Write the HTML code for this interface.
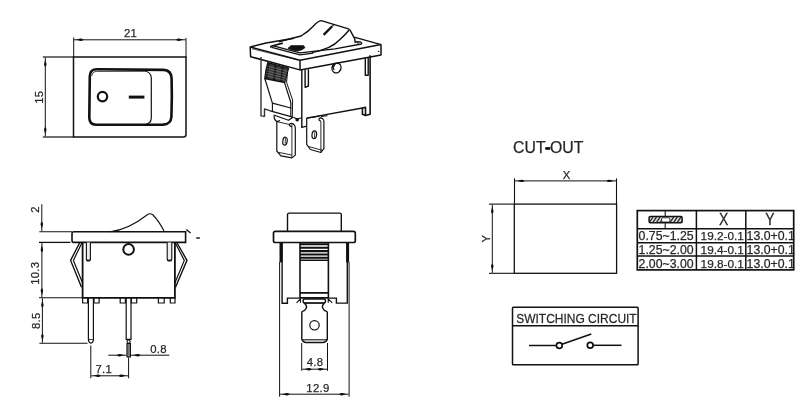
<!DOCTYPE html>
<html><head><meta charset="utf-8">
<style>
html,body{margin:0;padding:0;background:#fff;width:800px;height:402px;overflow:hidden}
svg{position:absolute;left:0;top:0;display:block;will-change:transform}
text{font-family:"Liberation Sans",sans-serif;fill:#222;stroke:#333;stroke-width:0.25}
</style></head><body>
<svg width="800" height="402" viewBox="0 0 800 402">
<defs>
<marker id="ar" viewBox="0 0 10 4" refX="10" refY="2" markerWidth="10" markerHeight="4" orient="auto-start-reverse" markerUnits="userSpaceOnUse"><path d="M0.6,2 C1.8,0.75 3,0.75 3.6,0.8 C5,1.1 6.5,1.7 7.8,2 C6.5,2.3 5,2.9 3.6,3.2 C3,3.25 1.8,3.25 0.6,2 Z" fill="#111"/></marker>
</defs>
<g fill="none" stroke="#111" stroke-width="1.2" stroke-linecap="butt">
<!-- FRONT VIEW -->
<g id="front">
<path d="M73.5,57 H186 V134.5 Q186,137 183.5,137 H73.5 Z" stroke-width="1.5"/>
<line x1="73.7" y1="37.5" x2="73.7" y2="57" stroke-width="1"/>
<line x1="186" y1="38" x2="186" y2="57" stroke-width="1"/>
<line x1="74" y1="39.8" x2="185.5" y2="39.8" stroke-width="1" marker-start="url(#ar)" marker-end="url(#ar)"/>
<line x1="42.8" y1="57" x2="73.5" y2="57" stroke-width="1.2"/>
<line x1="42.8" y1="137" x2="73.5" y2="137" stroke-width="1.2"/>
<line x1="45.3" y1="57.5" x2="45.3" y2="136.5" stroke-width="1" marker-start="url(#ar)" marker-end="url(#ar)"/>
<path d="M89.8,76 Q90,69.3 97,69.3 L163.5,69.9 Q171.2,70.4 171.6,78 Q172.2,97 171.4,117 Q170.8,124.4 163,124.6 L96,124.8 Q89.4,124.6 89.3,117.5 Z" stroke-width="2.6"/>
<path d="M91.8,76 Q92,71.8 96.5,71.4 L144,71.3" stroke-width="0.8"/>
<path d="M144,71 Q151,71.5 151.3,78 L151.3,118 Q151,123.5 146,124" stroke-width="1.2"/>
<circle cx="102.5" cy="96.6" r="4.7" stroke-width="2.2"/>
<line x1="128.8" y1="97.1" x2="144.4" y2="97.1" stroke-width="3"/>
</g>

<!-- SIDE VIEW -->
<g id="side">
<path d="M110,231.8 C126,230 138,222 147,215 Q150,212.6 153,215 C157,219 161,225 164.4,231.8" stroke-width="1.1"/>
<path d="M74,231.8 H185.6 V242.4 H74 Q72,242.4 72,240.4 V233.8 Q72,231.8 74,231.8 Z" stroke-width="1.6"/>
<line x1="39.3" y1="231.8" x2="72" y2="231.8" stroke-width="1.1"/>
<line x1="39" y1="242.4" x2="70.5" y2="242.4" stroke-width="1.3"/>
<line x1="41.8" y1="204.3" x2="41.8" y2="231" stroke-width="1" marker-end="url(#ar)"/>
<line x1="41.9" y1="243" x2="41.9" y2="297.3" stroke-width="1" marker-start="url(#ar)" marker-end="url(#ar)"/>
<line x1="39" y1="297.8" x2="82.6" y2="297.8" stroke-width="1.1"/>
<line x1="42.4" y1="298.3" x2="42.4" y2="342.8" stroke-width="1" marker-start="url(#ar)" marker-end="url(#ar)"/>
<line x1="39.4" y1="343.3" x2="87.5" y2="343.3" stroke-width="1.1"/>
<path d="M82.6,242.4 V297.8 H174.9 V242.4" stroke-width="1.8"/>
<circle cx="128.6" cy="249.4" r="5.3" stroke-width="2"/>
<path d="M86.4,242.4 V259 Q86.4,261 88.4,261 Q90.4,261 90.4,259 V242.4" stroke-width="1.1" fill="#eee"/>
<line x1="86.6" y1="260.2" x2="90.2" y2="260.2" stroke-width="1.2"/>
<path d="M167.2,242.4 V259 Q167.2,261 169.5,261 Q171.8,261 171.8,259 V242.4" stroke-width="1.1" fill="#eee"/>
<line x1="167.4" y1="260.2" x2="171.6" y2="260.2" stroke-width="1.2"/>
<path d="M79.8,242.5 L70.6,260.4 L81.5,287.3" stroke-width="1.4"/>
<path d="M81.8,243 L73.4,260.4 L82.6,283" stroke-width="1.2"/>
<path d="M176.8,242.5 L187,260.4 L175.5,287.3" stroke-width="1.4"/>
<path d="M175.3,243 L184.3,260.4 L174.9,283" stroke-width="1.2"/>
<path d="M82.6,297.8 V303 H87.6 V297.8 M94,297.8 V303 H99.1 V297.8" stroke-width="1.2"/>
<path d="M120.2,297.8 V303 H125.4 V297.8 M131.4,297.8 V303 H136.7 V297.8" stroke-width="1.2"/>
<path d="M158.4,297.8 V303 H164.2 V297.8 M170.3,297.8 V303 H175 V297.8" stroke-width="1.2"/>
<path d="M88.4,297.8 V339.5 Q88.6,342.8 90.9,343.2 Q93.2,342.8 93.4,339.5 V297.8" stroke-width="1.2"/>
<path d="M89,339.5 H92.8" stroke-width="0.8"/>
<path d="M126.2,297.8 V339.4 H131 V297.8" stroke-width="1.2"/>
<circle cx="128.6" cy="341.6" r="1.6" stroke-width="1.1"/>
<rect x="126.9" y="343.5" width="3.6" height="13.5" fill="#777" stroke-width="1"/>
<line x1="90.8" y1="345.5" x2="90.8" y2="378.3" stroke-width="1"/>
<line x1="128.6" y1="357.5" x2="128.6" y2="378.3" stroke-width="1"/>
<line x1="91.3" y1="375.8" x2="128.1" y2="375.8" stroke-width="1" marker-start="url(#ar)" marker-end="url(#ar)"/>
<line x1="108.3" y1="355.2" x2="126.3" y2="355.2" stroke-width="1" marker-end="url(#ar)"/>
<line x1="169.3" y1="355.2" x2="131" y2="355.2" stroke-width="1" marker-end="url(#ar)"/>
<path d="M186.3,229.4 L190.6,233.1 M196.3,238 H199.8" stroke-width="1.3"/>
</g>

<!-- END VIEW -->
<g id="end">
<path d="M287.5,231.3 V214.8 Q287.5,213.1 289.2,213.1 H339.6 Q341.3,213.1 341.3,214.8 V231.3" stroke-width="1.4"/>
<path d="M275.3,231.3 H353.5 Q355.3,231.3 355.3,233.1 V240.7 Q355.3,242.5 353.5,242.5 H275.3 Q273.5,242.5 273.5,240.7 V233.1 Q273.5,231.3 275.3,231.3 Z" stroke-width="1.7"/>
<line x1="281" y1="242.5" x2="281" y2="262.4" stroke-width="3"/>
<line x1="347.6" y1="242.5" x2="347.6" y2="262.4" stroke-width="3"/>
<path d="M282.1,242.5 V303.3 H287.4 V298.1 H300 M328.6,298.1 H336.4 V303.1 H347.3 V242.5" stroke-width="1.4"/>
<line x1="279.6" y1="262" x2="279.6" y2="396.7" stroke-width="1"/>
<line x1="349.1" y1="262" x2="349.1" y2="396.7" stroke-width="1"/>
<path d="M300,242.5 V298 M328.4,242.5 V298" stroke-width="1.6"/>
<path d="M300,244.3 H328.4 M300,247.7 H328.4 M300,251.1 H328.4 M300,254.5 H328.4 M300,257.8 H328.4" stroke-width="2.1"/>
<path d="M300,260.3 H328.4 M300,292.9 H328.4 M300,297.9 H328.4" stroke-width="1.6"/>
<path d="M304.8,299 H323.8 Q325.5,299 325.5,301 Q325.5,303.1 323.8,303.1 H304.8 Q303.1,303.1 303.1,301 Q303.1,299 304.8,299 Z" stroke-width="1.4"/>
<line x1="303.5" y1="302.9" x2="325" y2="302.9" stroke-width="1.2"/>
<path d="M296.5,302.8 L300.5,298.8 V302.8 M332.2,302.8 L328.2,298.8 V302.8" stroke-width="1.1"/>
<path d="M304.3,303.3 C306.5,305 307,306.5 306.3,308 C305.5,309.8 304,311 302.6,311.4 Q301.8,311.8 301.8,313 V339.2 Q303,342.5 306,342.5 H323 Q326,342.5 327.3,339.2 V313 Q327.3,311.8 326.5,311.4 C325,311 323.5,309.8 322.7,308 C322,306.5 322.5,305 324.2,303.3" stroke-width="1.4"/>
<path d="M302.3,339.8 H327.4" stroke-width="1.1"/>
<circle cx="314.5" cy="325.3" r="4.7" stroke-width="1.2"/>
<line x1="301.7" y1="343" x2="301.7" y2="370.8" stroke-width="1"/>
<line x1="327.5" y1="343" x2="327.5" y2="370.8" stroke-width="1"/>
<line x1="302.2" y1="369.2" x2="327" y2="369.2" stroke-width="1" marker-start="url(#ar)" marker-end="url(#ar)"/>
<line x1="280.1" y1="394.2" x2="348.6" y2="394.2" stroke-width="1" marker-start="url(#ar)" marker-end="url(#ar)"/>
</g>


<!-- ISOMETRIC VIEW -->
<g id="iso" stroke-linejoin="round">
<!-- bezel outer -->
<path d="M294,38.2 L266,43.1 L250.2,47 L250.6,56.7 L300,69.9 L381,55 L381,44.6 L354.2,37.1" stroke-width="1.5"/>
<path d="M250.2,47 L300,60.3 L381,44.6" stroke-width="1.5"/>
<path d="M300,60.3 L300,69.9" stroke-width="1.5"/>
<path d="M252,48.8 L298,60" stroke-width="0.7"/>
<circle cx="378.6" cy="51.4" r="0.7" fill="#111" stroke="none"/>
<!-- opening -->
<path d="M282.8,43.1 L272,46 Q270,46.8 271.5,47.5" stroke-width="1.8"/>
<path d="M272.5,45.7 L300,52.9 L335,48.9 L361.3,44 Q362.5,43 360.5,42 L355.5,41.6" stroke-width="1.3"/>
<path d="M271.8,47.3 L300,54.9 L313,53.2" stroke-width="1.3"/>
<path d="M356.5,42.5 Q359.5,43 358,43.6" stroke-width="1"/>
<!-- rocker -->
<path d="M278.9,41.8 L301,36 C306,33 310,30 314,25.5 Q318,21 321.3,20.6 L348.5,28.8 Q349.8,29.3 350.5,30.8 L354.7,38.8 L355.3,43.1" stroke-width="1.4"/>
<path d="M312,52.6 C325,50 334,46 339.4,40 Q345,35 349.2,30" stroke-width="1.4"/>
<path d="M323.6,34.9 L332.2,26.2" stroke-width="2.3"/>
<path d="M332.5,26 L333.8,24.6" stroke-width="1.2"/>
<path d="M288,48.3 L291,45.7 H303.6 L304.9,47.7 L301.8,49.8 L297.5,50.9 L291.5,49.8 Z" fill="#111" stroke-width="0.9"/>
<!-- body -->
<path d="M301.8,69.9 V127.4 L306.7,126.1" stroke-width="1.4"/>
<path d="M261,57 V115.9 L264.5,116.3 V108.9 L271.1,111.1" stroke-width="1.4" stroke="#333"/>
<path d="M370.1,55.3 V114.3 L365.5,115.5 L362.4,114.3 V108 L365.5,107.4 V115.5" stroke-width="1.6"/>
<path d="M306.7,118.1 L362.4,108" stroke-width="1.3"/>
<path d="M305.1,69.6 V87.3 L308.4,86 V69.2" stroke-width="1.4"/>
<path d="M365.3,57.6 V75.3 H368.2 V57.2" stroke-width="1.4"/>
<ellipse cx="336.5" cy="68" rx="4.4" ry="5" transform="rotate(25 336.5 68)" stroke-width="1.4"/>
<path d="M333.5,63.5 Q332.5,67 334,70 M335.5,63 L333.8,66.5" stroke-width="1.3"/>
<!-- knurl -->
<path d="M267.8,62.6 L288.5,68.2 Q286.5,75 284.7,82.6 L264.8,78.5 Q265.5,70 267.8,62.6 Z" fill="#3a3a3a" stroke-width="1.3"/>
<path d="M268.6,63.5 L266.4,78.8 M275.6,65.3 L274,80.4 M282.6,67.2 L281.2,81.8" stroke="#111" stroke-width="2"/>
<path d="M267,66 L287.6,71.3 M266.6,68.4 L287,73.6 M266.3,70.8 L286.4,75.9 M266,73.2 L285.8,78.2 M265.7,75.6 L285.3,80.4" stroke="#8a8a8a" stroke-width="0.5"/>
<!-- plate -->
<path d="M264.8,78.5 L272.4,103.1 L290.8,108 V102.5 L284.5,82.6" stroke-width="1.2"/>
<path d="M287.5,72 L286.6,82.5 L292.6,100 L292.3,116.8" stroke-width="1"/>
<path d="M272.4,103.1 V111.5 M290.8,108 V116.3" stroke-width="1.1"/>
<path d="M271.1,111.1 L292.8,117.2 L288.5,120.3 L273.7,115" stroke-width="1.2"/>
<path d="M293.5,117.2 L297,119 L302,117.8" stroke-width="1.1"/>
<circle cx="297.2" cy="119.8" r="1.8" fill="#111" stroke="none"/>
<!-- terminal 1 -->
<path d="M274.2,115.5 Q273.5,119 276.8,121.6 L280,120.5" stroke-width="1.2"/>
<path d="M276.8,121.6 V151 L280.9,155.8 L291.9,157.9 L295.3,155.1 V127.8 Q295,124 291.5,123.3 Q289,123.5 289.5,125.5 L291.9,127" stroke-width="1.2"/>
<path d="M278.9,152.4 L291.9,155.1 M291.9,124.4 V157.9" stroke-width="0.9"/>
<path d="M276.8,121.6 L289.5,124.5" stroke-width="0.9"/>
<ellipse cx="285" cy="141.2" rx="2.2" ry="4" transform="rotate(8 285 141.2)" stroke-width="1.2"/>
<line x1="285.5" y1="138.2" x2="285.2" y2="143.8" stroke-width="0.8"/>
<!-- terminal 2 -->
<path d="M306.7,118.1 V144.3 L310.4,149.5 L320.9,152.5 L323.9,148.7 V121.5 Q323.5,118 320.5,117.8 Q318.5,118.2 319.2,120.3 L320.9,121.2" stroke-width="1.2"/>
<path d="M306.7,118.1 L319.6,116.1 M321,116.4 L327.5,115.8" stroke-width="1.1"/>
<path d="M308.5,146.5 L322.5,150.3 M320.9,121.2 V152.5" stroke-width="0.9"/>
<ellipse cx="314.3" cy="134.8" rx="2.3" ry="3.9" transform="rotate(6 314.3 134.8)" stroke-width="1.2"/>
<line x1="314.8" y1="131.8" x2="314.5" y2="137.5" stroke-width="0.8"/>
</g>
<!-- CUTOUT -->
<g id="cutout">
<rect x="514.3" y="204.1" width="102.3" height="69.2" stroke-width="1.3"/>
<line x1="514.5" y1="178.4" x2="514.5" y2="204" stroke-width="1.1"/>
<line x1="616.5" y1="178.4" x2="616.5" y2="204" stroke-width="1.1"/>
<line x1="515" y1="180.9" x2="616" y2="180.9" stroke-width="1" marker-start="url(#ar)" marker-end="url(#ar)"/>
<line x1="489" y1="204.1" x2="514.3" y2="204.1" stroke-width="1.1"/>
<line x1="489" y1="273.3" x2="514.3" y2="273.3" stroke-width="1.1"/>
<line x1="492.3" y1="204.6" x2="492.3" y2="272.8" stroke-width="1" marker-start="url(#ar)" marker-end="url(#ar)"/>
</g>
<!-- TABLE -->
<g id="table">
<rect x="637.3" y="210.6" width="156.4" height="59.3" stroke-width="1.7"/>
<line x1="696.4" y1="210.5" x2="696.4" y2="269.9" stroke-width="1.5"/>
<line x1="745.8" y1="210.5" x2="745.8" y2="269.9" stroke-width="1.5"/>
<line x1="637" y1="228.8" x2="793.8" y2="228.8" stroke-width="1.5"/>
<line x1="637" y1="242.8" x2="793.8" y2="242.8" stroke-width="1.5"/>
<line x1="637" y1="256" x2="793.8" y2="256" stroke-width="1.5"/>
<line x1="665.2" y1="210.5" x2="665.2" y2="216.3" stroke-width="1.1"/>
<line x1="665.2" y1="223.3" x2="665.2" y2="228.8" stroke-width="1.1"/>
<rect x="649.1" y="216.6" width="33" height="6.1" rx="1.2" fill="#d8d8d8" stroke="#111" stroke-width="1.5"/>
<path d="M649.5,222.2 L653,217 M652.8,222.6 L656.6,216.8 M656.4,222.6 L660.2,216.8 M660,222.6 L662,219.6 M670,222.6 L673.8,216.8 M673.6,222.6 L677.4,216.8 M677.2,222.6 L681,216.8 M680.8,222.6 L682,220.8" stroke="#222" stroke-width="1.2"/>
<rect x="661.6" y="217.8" width="8.2" height="4.2" rx="1.2" fill="#fff" stroke="#111" stroke-width="0.8"/>
</g>
<!-- SWITCHING CIRCUIT -->
<g id="circuit">
<rect x="512.5" y="307.3" width="125.6" height="57.5" rx="0.8" stroke-width="1.5"/>
<line x1="512.5" y1="325.8" x2="638.1" y2="325.8" stroke-width="1.5"/>
<line x1="529" y1="345.5" x2="556.3" y2="345.5" stroke-width="1.5"/>
<circle cx="559.3" cy="345.5" r="2.9" stroke-width="1.7"/>
<line x1="562" y1="344.3" x2="591.3" y2="334" stroke-width="1.5"/>
<circle cx="590.2" cy="345.3" r="2.9" stroke-width="1.7"/>
<line x1="593.1" y1="345.3" x2="621.5" y2="345.3" stroke-width="1.5"/>
</g>
</g>

<text x="513.1" y="152.8" font-size="15.8">CUT-OUT</text>
<rect x="545.4" y="147.1" width="4.9" height="2.6" fill="#111"/>
<text x="562.7" y="178.95" font-size="11.3" letter-spacing="0.3">X</text>
<text transform="translate(489.75,242.6) rotate(-90)" font-size="11.3" letter-spacing="0.3">Y</text>
<text transform="translate(719,224.8) scale(0.89,1)" font-size="15.7">X</text>
<text transform="translate(765.2,224.8) scale(0.89,1)" font-size="15.7">Y</text>
<g font-size="12.3">
<text x="638.6" y="239.7">0.75~1.25</text>
<text x="638.6" y="253.8">1.25~2.00</text>
<text x="638.6" y="267.8">2.00~3.00</text>
<text x="700.6" y="239.7" font-size="11.8">19.2-0.1</text>
<text x="700.6" y="253.8" font-size="11.8">19.4-0.1</text>
<text x="700.6" y="267.8" font-size="11.8">19.8-0.1</text>
<text x="746.6" y="239.7">13.0+0.1</text>
<text x="746.6" y="253.8">13.0+0.1</text>
<text x="746.6" y="267.8">13.0+0.1</text>
</g>
<text transform="translate(516.2,322.7) scale(0.922,1)" font-size="13">SWITCHING CIRCUIT</text>

<text x="306.75" y="366.05" font-size="11.3" letter-spacing="0.3">4.8</text>
<text x="306.3" y="391.6" font-size="11.3" letter-spacing="0.3">12.9</text>
<text transform="translate(39,212.75) rotate(-90)" font-size="11.3" letter-spacing="0.3">2</text>
<text transform="translate(38.65,284.85) rotate(-90)" font-size="11.3" letter-spacing="0.3">10.3</text>
<text transform="translate(39.95,329.05) rotate(-90)" font-size="11.3" letter-spacing="0.3">8.5</text>
<text x="95.5" y="373.25" font-size="11.3" letter-spacing="0.3">7.1</text>
<text x="150.25" y="352.75" font-size="11.3" letter-spacing="0.3">0.8</text>
<text x="124" y="36.9" font-size="11.3" letter-spacing="0.3">21</text>
<text transform="translate(42.85,103.8) rotate(-90)" font-size="11.3" letter-spacing="0.3">15</text>
</svg>
</body></html>
